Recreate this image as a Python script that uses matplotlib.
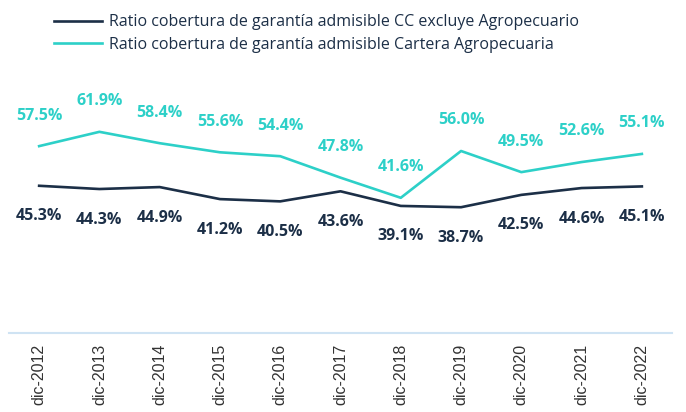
import matplotlib
matplotlib.use("Agg")
import matplotlib.pyplot as plt
import numpy as np

anios = ["dic-2012", "dic-2013", "dic-2014", "dic-2015", "dic-2016", "dic-2017",
         "dic-2018", "dic-2019", "dic-2020", "dic-2021", "dic-2022"]
cc_excluye = [45.3, 44.3, 44.9, 41.2, 40.5, 43.6, 39.1, 38.7, 42.5, 44.6, 45.1]
agro = [57.5, 61.9, 58.4, 55.6, 54.4, 47.8, 41.6, 56.0, 49.5, 52.6, 55.1]

navy = "#1c2f47"
cyan = "#2dd0c8"

fig = plt.figure(figsize=(6.86, 4.12), dpi=100)
ax = fig.add_axes([9/686, 1-333/412, 663/686, 260/412])
x = np.arange(len(anios))

l1, = ax.plot(x, cc_excluye, color=navy, lw=1.9)
l2, = ax.plot(x, agro, color=cyan, lw=1.9)

for xi, v in zip(x, cc_excluye):
    ax.annotate(f"{v:.1f}%", (xi, v), xytext=(0, -22), textcoords="offset points",
                ha="center", va="center", color=navy, fontsize=11.5,
                fontweight="bold", family="Open Sans")
for xi, v in zip(x, agro):
    ax.annotate(f"{v:.1f}%", (xi, v), xytext=(0, 22), textcoords="offset points",
                ha="center", va="center", color=cyan, fontsize=11.5,
                fontweight="bold", family="Open Sans")

ax.set_xlim(-0.5, len(anios)-0.5)
ax.set_ylim(0, 80)
ax.set_xticks(x)
ax.set_xticklabels(anios, rotation=90, fontsize=11.5, color="#333333",
                   family="Liberation Sans")
ax.tick_params(axis="x", length=0, pad=8)
ax.set_yticks([])
for s in ["top", "right", "left"]:
    ax.spines[s].set_visible(False)
ax.spines["bottom"].set_color("#cfe3f3")
ax.spines["bottom"].set_linewidth(1.5)

leg = fig.legend([l1, l2],
                 ["Ratio cobertura de garantía admisible CC excluye Agropecuario",
                  "Ratio cobertura de garantía admisible Cartera Agropecuaria"],
                 loc="upper left", bbox_to_anchor=(40/686, 1.0), frameon=False,
                 handlelength=3.0, handletextpad=0.4, labelspacing=0.4,
                 prop={"family": "Open Sans", "size": 11.5})
for t in leg.get_texts():
    t.set_color(navy)

fig.savefig("out.png", dpi=100)
